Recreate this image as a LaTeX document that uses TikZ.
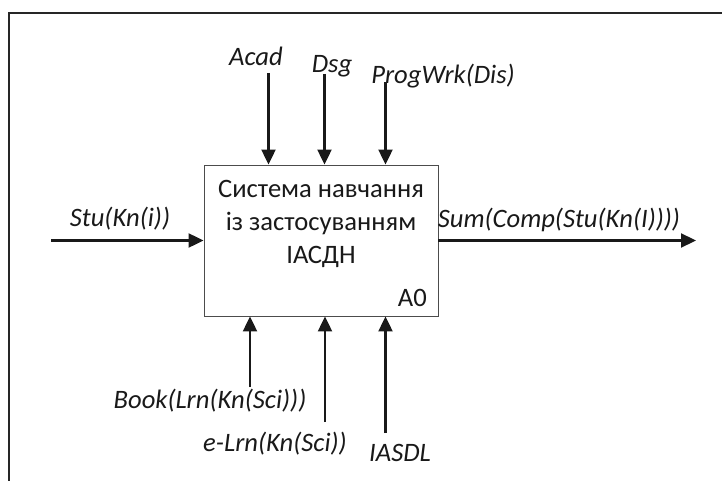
\documentclass[tikz,border=0pt]{standalone}
\usepackage{fontspec}
\setmainfont{Carlito}
\usetikzlibrary{arrows.meta}
\begin{document}
\begin{tikzpicture}[x=1pt,y=-1pt,
  frameline/.style={line width=1.4pt,draw=black!85},
  sysbox/.style={draw=black!70,line width=0.9pt,minimum width=234pt,minimum height=151pt,inner sep=0pt},
  flow/.style={line width=2.2pt,draw=black!90,-{Triangle[length=15pt,width=14pt]}},
  lbl/.style={font=\fontsize{26.6}{30}\selectfont\itshape,text=black!90,inner sep=0pt,anchor=base},
  boxtext/.style={font=\fontsize{26.6}{33}\selectfont,text=black!90,inner sep=0pt,align=center}
]
\useasboundingbox (0,0) rectangle (722,481);
% partial outer frame
\draw[frameline] (9,481) -- (9,13) -- (722,13);

% function block
\node[sysbox] (sys) at (321,240.5) {};
\node[boxtext] (sysname) at (321,224) {Система навчання\\із застосуванням\\ІАСДН};
\node[font=\fontsize{26.6}{30}\selectfont,text=black!90,inner sep=0pt,anchor=base east] (code) at (427,306.5) {A0};

% controls (top)
\coordinate (cAcad) at (268.5,73);
\coordinate (cDsg) at (324.5,74);
\coordinate (cProg) at (385.5,82);
\draw[flow] (cAcad) -- (cAcad |- sys.north);
\draw[flow] (cDsg) -- (cDsg |- sys.north);
\draw[flow] (cProg) -- (cProg |- sys.north);
\node[lbl] (lAcad) at (256,66) {Acad};
\node[lbl] (lDsg) at (332,73) {Dsg};
\node[lbl] (lProg) at (443,84) {ProgWrk(Dis)};

% input and output
\coordinate (cIn) at (51,240.5);
\coordinate (cOut) at (696,240.5);
\draw[flow] (cIn) -- (sys.west);
\draw[flow] (sys.east) -- (cOut);
\node[lbl] (lIn) at (120,226) {Stu(Kn(i))};
\node[lbl] (lOut) at (559,227) {Sum(Comp(Stu(Kn(I))))};

% mechanisms (bottom)
\coordinate (cBook) at (250,387);
\coordinate (cElrn) at (325,422);
\coordinate (cIasdl) at (385.5,433);
\draw[flow] (cBook) -- (cBook |- sys.south);
\draw[flow] (cElrn) -- (cElrn |- sys.south);
\draw[flow] (cIasdl) -- (cIasdl |- sys.south);
\node[lbl] (lBook) at (210,408) {Book(Lrn(Kn(Sci)))};
\node[lbl] (lElrn) at (275,451) {e-Lrn(Kn(Sci))};
\node[lbl] (lIasdl) at (400,461) {IASDL};
\end{tikzpicture}
\end{document}
